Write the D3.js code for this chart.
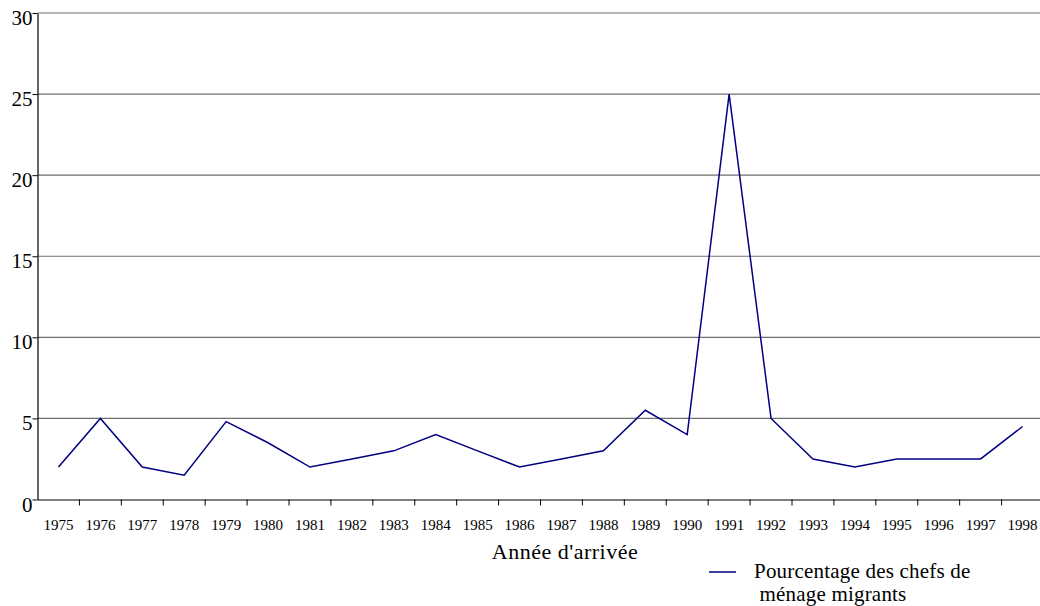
<!DOCTYPE html>
<html>
<head>
<meta charset="utf-8">
<script src="https://cdn.jsdelivr.net/npm/d3@7"></script>
<style>
  body { margin: 0; background: #fff; }
</style>
</head>
<body>
<div id="chart"></div>
<script>
var years = ["1975","1976","1977","1978","1979","1980","1981","1982","1983","1984","1985","1986",
             "1987","1988","1989","1990","1991","1992","1993","1994","1995","1996","1997","1998"];
var pourcentages = [2, 5, 2, 1.5, 4.8, 3.5, 2, 2.5, 3, 4, 3, 2,
                    2.5, 3, 5.5, 4, 25, 5, 2.5, 2, 2.5, 2.5, 2.5, 4.5];
var yTicks = [0, 5, 10, 15, 20, 25, 30];
var seriesName = ["Pourcentage des chefs de", "\u00a0ménage migrants"];
var xTitle = "Année d'arrivée";

var serif = "'Liberation Serif', 'Times New Roman', serif";
var width = 1040, height = 606;
var margin = {top: 13, left: 37.5, right: -3.5, bottom: 106.5};

var svg = d3.select("#chart").append("svg")
    .attr("width", width)
    .attr("height", height);

var x = d3.scaleBand()
    .domain(years)
    .range([margin.left, width - margin.right]);

var y = d3.scaleLinear()
    .domain([0, 30])
    .range([height - margin.bottom, margin.top]);

// gridlines
svg.append("g")
  .selectAll("line")
  .data(yTicks.filter(function(d) { return d > 0; }))
  .enter().append("line")
    .attr("x1", margin.left)
    .attr("x2", width)
    .attr("y1", function(d) { return y(d); })
    .attr("y2", function(d) { return y(d); })
    .attr("stroke", "#6e6e6e")
    .attr("stroke-width", 1.2);

// x axis
var xAxis = svg.append("g")
    .attr("transform", "translate(0," + y(0) + ")")
    .call(d3.axisBottom(x).tickSizeInner(6).tickSizeOuter(0));
xAxis.attr("font-family", serif);
xAxis.select(".domain").attr("stroke", "#000").attr("stroke-width", 1.2);
xAxis.selectAll(".tick line").remove();
xAxis.selectAll(".tick text")
    .attr("font-size", "15px")
    .attr("dy", "0")
    .attr("y", 30);
// tick marks on the band edges
xAxis.selectAll(".edge")
    .data(years.slice(1))
    .enter().append("line")
    .attr("class", "edge")
    .attr("x1", function(d) { return x(d); })
    .attr("x2", function(d) { return x(d); })
    .attr("y1", 0)
    .attr("y2", 6)
    .attr("stroke", "#000");

// y axis
var yAxis = svg.append("g")
    .attr("transform", "translate(" + margin.left + ",0)")
    .call(d3.axisLeft(y).tickValues(yTicks).tickSizeInner(5).tickSizeOuter(0));
yAxis.attr("font-family", serif);
yAxis.select(".domain").attr("stroke", "#000").attr("stroke-width", 1.2);
yAxis.selectAll(".tick line").attr("stroke", "#000");
yAxis.selectAll(".tick text")
    .attr("font-size", "21px")
    .attr("x", -5)
    .attr("dy", "0.55em");

// line
var line = d3.line()
    .x(function(d, i) { return x(years[i]) + x.bandwidth() / 2; })
    .y(function(d) { return y(d); });

svg.append("path")
    .datum(pourcentages)
    .attr("fill", "none")
    .attr("stroke", "#000080")
    .attr("stroke-width", 1.5)
    .attr("stroke-linejoin", "miter")
    .attr("d", line);

// axis title
svg.append("text")
    .attr("x", 565)
    .attr("y", 559)
    .attr("text-anchor", "middle")
    .attr("font-family", serif)
    .attr("font-size", "22px")
    .attr("letter-spacing", "0.5px")
    .text(xTitle);

// legend
svg.append("line")
    .attr("x1", 709).attr("x2", 736)
    .attr("y1", 572).attr("y2", 572)
    .attr("stroke", "#000080")
    .attr("stroke-width", 1.5);
svg.append("text")
    .attr("x", 754)
    .attr("y", 578)
    .attr("font-family", serif)
    .attr("font-size", "21px")
    .attr("letter-spacing", "0.2px")
    .text(seriesName[0]);
svg.append("text")
    .attr("x", 754)
    .attr("y", 601)
    .attr("font-family", serif)
    .attr("font-size", "21px")
    .attr("letter-spacing", "0.2px")
    .text(seriesName[1]);
</script>
</body>
</html>
